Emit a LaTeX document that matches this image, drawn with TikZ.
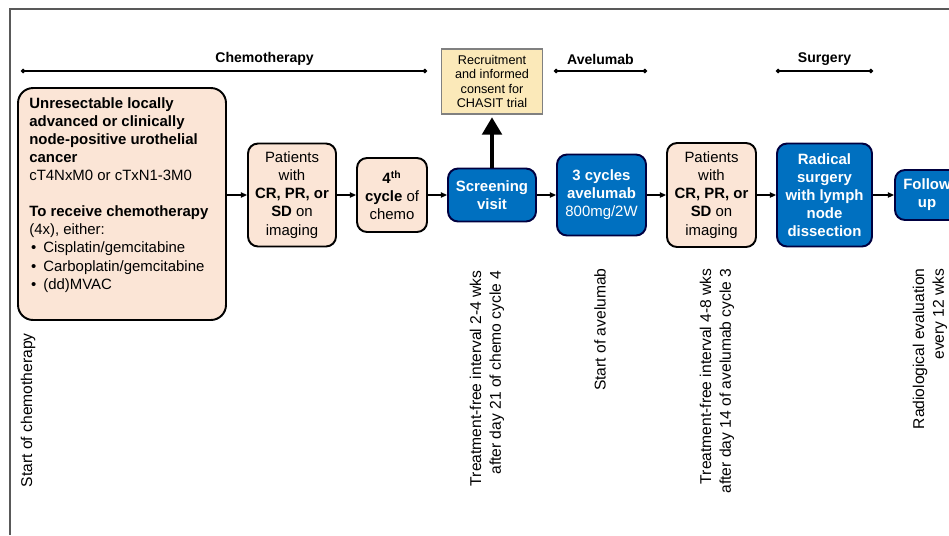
\documentclass[tikz,border=0pt]{standalone}
\usepackage{fontspec}
\setmainfont{Liberation Sans}
\usetikzlibrary{arrows.meta}

\definecolor{peach}{RGB}{251,229,214}
\definecolor{trialblue}{RGB}{0,112,192}
\definecolor{recruitfill}{RGB}{251,233,185}

\newcommand{\boxfont}{\fontsize{8.5}{10.3}\selectfont}
\newcommand{\phasefont}{\fontsize{8}{9.6}\selectfont\bfseries}
\newcommand{\timefont}{\fontsize{8.9}{11.3}\selectfont}

\tikzset{
  peachbox/.style={draw=black, line width=1.1pt, fill=peach, rounded corners=0.2cm,
    align=center, inner sep=1pt, font=\boxfont},
  bluebox/.style={draw=blue!25!black, line width=1.1pt, fill=trialblue, text=white,
    rounded corners=0.2cm, align=center, inner sep=1pt, font=\boxfont\bfseries},
  flow/.style={-{Triangle[length=3.5pt,width=3pt]}, line width=0.8pt},
  phase/.style={{Circle[length=2.5pt]}-{Circle[length=2.5pt]}, line width=0.8pt},
  phaselabel/.style={above=2pt, inner sep=1pt, font=\phasefont},
  timelabel/.style={rotate=90, anchor=east, align=right, inner sep=0pt, font=\timefont},
}

\begin{document}
\begin{tikzpicture}[x=0.02cm, y=-0.02cm]
  \useasboundingbox (0,0) rectangle (949,535);

  % Frame
  \draw[gray!70!black, line width=0.6pt] (949,9) -- (10,9) -- (10,535);

  % Treatment phases
  \coordinate (chemoL) at (21,71);
  \coordinate (chemoR) at (427,71);
  \draw[phase] (chemoL) -- node[pos=0.6, phaselabel] (chemolab) {Chemotherapy} (chemoR);

  \coordinate (aveL) at (554,71);
  \coordinate (aveR) at (647,71);
  \draw[phase] (aveL) -- node[midway, phaselabel] (avelab) {Avelumab} (aveR);

  \coordinate (surgL) at (776,71);
  \coordinate (surgR) at (873,71);
  \draw[phase] (surgL) -- node[midway, phaselabel] (surglab) {Surgery} (surgR);

  % Eligibility box
  \node[peachbox, rounded corners=0.3cm, minimum width=4.16cm, minimum height=4.64cm] (elig) at (122,204) {};
  \node[anchor=north west, align=left, inner sep=0pt, font=\boxfont] (eligtxt) at (29,97) {%
    \textbf{Unresectable locally}\\
    \textbf{advanced or clinically}\\
    \textbf{node-positive urothelial}\\
    \textbf{cancer}\\
    cT4NxM0 or cTxN1-3M0\\[10.3pt]
    \textbf{To receive chemotherapy}\\
    (4x), either:\\
    \hspace*{1pt}\textbullet\hspace{4pt}Cisplatin/gemcitabine\\
    \hspace*{1pt}\textbullet\hspace{4pt}Carboplatin/gemcitabine\\
    \hspace*{1pt}\textbullet\hspace{4pt}(dd)MVAC};

  % Main flow
  \node[peachbox, minimum width=1.76cm, minimum height=2.06cm] (resp1) at (292,195)
    {Patients\\with\\\textbf{CR, PR, or}\\\textbf{SD} on\\imaging};
  \node[peachbox, minimum width=1.40cm, minimum height=1.48cm] (cycle4) at (392,195)
    {\textbf{4\textsuperscript{th}}\\\textbf{cycle} of\\chemo};
  \node[bluebox, minimum width=1.76cm, minimum height=1.06cm] (screen) at (492,195)
    {Screening\\visit};
  \node[bluebox, minimum width=1.78cm, minimum height=1.62cm] (avelumab) at (601.5,195)
    {3 cycles\\avelumab\\{\mdseries 800mg/2W}};
  \node[peachbox, minimum width=1.78cm, minimum height=2.08cm] (resp2) at (711.5,195)
    {Patients\\with\\\textbf{CR, PR, or}\\\textbf{SD} on\\imaging};
  \node[bluebox, minimum width=1.90cm, minimum height=2.06cm] (surgery) at (824.5,195)
    {Radical\\surgery\\with lymph\\node\\dissection};
  \node[bluebox, minimum width=1.28cm, minimum height=1.00cm] (followup) at (927,195)
    {Follow\\up};

  % Recruitment
  \node[draw=gray, line width=0.6pt, fill=recruitfill, align=center, inner sep=1pt,
    font=\fontsize{7.2}{8.1}\selectfont, minimum width=2.02cm, minimum height=1.30cm] (recruit) at (492,81.5)
    {Recruitment\\and informed\\consent for\\CHASIT trial};

  \draw[flow] (elig.east |- resp1.west) -- (resp1.west);
  \draw[flow] (resp1.east) -- (cycle4.west);
  \draw[flow] (cycle4.east) -- (screen.west);
  \draw[flow] (screen.east) -- (avelumab.west);
  \draw[flow] (avelumab.east) -- (resp2.west);
  \draw[flow] (resp2.east) -- (surgery.west);
  \draw[flow] (surgery.east) -- (followup.west);
  \draw[-{Triangle[length=10pt,width=11pt]}, line width=2.8pt, shorten >=1.5pt] (screen.north) -- (recruit.south);

  % Time points
  \node[timelabel] (tstart) at (28,333) {Start of chemotherapy};
  \node[timelabel] (tfree1) at (487,270) {Treatment-free interval 2-4 wks\\after day 21 of chemo cycle 4};
  \node[timelabel] (tave) at (600,268) {Start of avelumab};
  \node[timelabel] (tfree2) at (717,268) {Treatment-free interval 4-8 wks\\after day 14 of avelumab cycle 3};
  \node[timelabel] (tradio) at (930,268) {Radiological evaluation\\every 12 wks};
\end{tikzpicture}
\end{document}
